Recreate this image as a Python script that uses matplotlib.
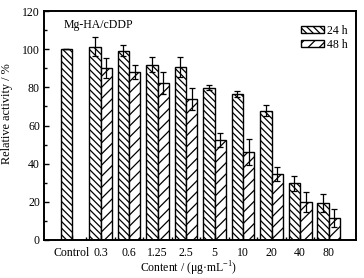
import matplotlib
matplotlib.use("Agg")
import matplotlib.pyplot as plt
from matplotlib.ticker import MultipleLocator, FixedLocator
import numpy as np

# === STYLE ===
plt.rcParams['font.family'] = ['Liberation Serif', 'DejaVu Serif']
plt.rcParams['mathtext.fontset'] = 'custom'
plt.rcParams['mathtext.rm'] = 'Liberation Serif'
plt.rcParams['font.size'] = 8.5
plt.rcParams['hatch.linewidth'] = 0.9

# === DATA ===
categories = ['Control', '0.3', '0.6', '1.25', '2.5', '5', '10', '20', '40', '80']
act_24h = [100, 101.3, 99.2, 91.9, 90.5, 79.8, 76.5, 67.8, 29.7, 19.2]
err_24h = [0, 5.0, 3.0, 3.8, 5.2, 1.4, 1.7, 2.8, 4.0, 4.7]
# no 48 h bar for the control group
act_48h = [90.3, 88.2, 82.1, 73.7, 52.4, 46.0, 34.6, 20.1, 11.7]
err_48h = [5.3, 3.8, 5.8, 5.8, 3.5, 6.9, 3.8, 5.2, 4.7]

# === FIGURE ===
fig = plt.figure(figsize=(3.64, 2.78), dpi=100)
ax = fig.add_axes([0.121, 0.137, 0.857, 0.823])

w = 0.4
x = np.arange(len(categories))
x48 = x[1:]

ax.bar(x - w / 2, act_24h, w, yerr=err_24h, color='white', edgecolor='black',
       linewidth=1.0, hatch='\\\\\\\\\\', label='24 h',
       error_kw=dict(ecolor='black', elinewidth=0.9, capsize=2.5, capthick=0.9))
ax.bar(x48 + w / 2, act_48h, w, yerr=err_48h, color='white', edgecolor='black',
       linewidth=1.0, hatch='///', label='48 h',
       error_kw=dict(ecolor='black', elinewidth=0.9, capsize=2.5, capthick=0.9))

ax.set_xlim(-0.98, 9.96)
ax.set_ylim(0, 120)
ax.set_xticks(x)
ax.set_xticklabels(categories)
ax.xaxis.set_minor_locator(FixedLocator(x[:-1] + 0.5))
ax.yaxis.set_major_locator(MultipleLocator(20))
ax.yaxis.set_minor_locator(MultipleLocator(10))
ax.tick_params(which='both', direction='in', top=False, right=False, width=1.0)
ax.tick_params(which='major', length=3.5)
ax.tick_params(axis='x', which='major', pad=5)
ax.tick_params(axis='y', which='major', pad=3)
ax.tick_params(which='minor', length=2)
for s in ax.spines.values():
    s.set_linewidth(1.4)

ax.set_xlabel('Content / (μg·mL$^{-1}$)')
ax.xaxis.set_label_coords(0.463, -0.088)
ax.set_ylabel('Relative activity / %', fontsize=8.8)
ax.yaxis.set_label_coords(-0.098, 0.55)
ax.text(0.062, 0.965, 'Mg-HA/cDDP', transform=ax.transAxes, ha='left', va='top')

ax.legend(loc='upper right', bbox_to_anchor=(1.0, 0.975), frameon=False,
          handlelength=1.9, handleheight=0.55, handletextpad=0.3,
          labelspacing=0.15, borderaxespad=0.3)

# === RENDER ===
fig.savefig('out.png', dpi=100)
